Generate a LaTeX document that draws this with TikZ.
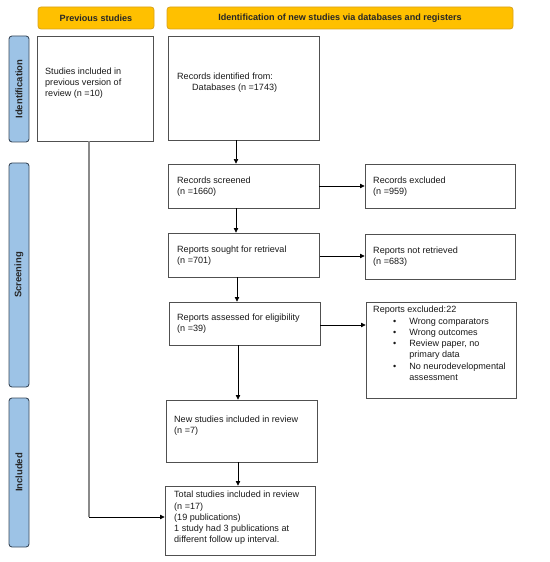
\documentclass[tikz,border=0pt]{standalone}
\usepackage{fontspec}
\setmainfont{Liberation Sans}
\usetikzlibrary{arrows.meta}
\definecolor{hdrfill}{HTML}{FFC000}
\definecolor{hdrdraw}{HTML}{D9A21A}
\definecolor{sidefill}{HTML}{9DC3E6}
\definecolor{sidedraw}{HTML}{3A4A5C}
\definecolor{boxdraw}{HTML}{505050}
\definecolor{lineg}{HTML}{8A8A8A}
\tikzset{
  hdr/.style={draw=hdrdraw, fill=hdrfill, rounded corners=3pt, line width=0.8bp, font=\fontsize{9.1}{10}\selectfont\bfseries, text=black!85},
  side/.style={draw=sidedraw, fill=sidefill, rounded corners=3pt, line width=0.9bp, font=\fontsize{9.5}{10}\selectfont\bfseries, text=black!85},
  bx/.style={draw=boxdraw, line width=0.9bp, inner sep=0pt},
  txt/.style={inner sep=0pt, align=left, font=\fontsize{9.1}{11.3}\selectfont, text=black!90, anchor=west},
  arr/.style={-{Triangle[length=4.5bp,width=4.5bp]}, line width=0.7bp, black},
}
\begin{document}
\begin{tikzpicture}[x=1bp,y=-1bp]
\useasboundingbox (0,0) rectangle (550,562);
% headers
\node[hdr, minimum width=116bp, minimum height=22bp] (h1) at (96,18) {Previous studies};
\node[hdr, minimum width=346bp, minimum height=22bp] (h2) at (340,18) {Identification of new studies via databases and registers};
% side labels
\node[side, minimum width=106bp, minimum height=20bp, rotate=90] (s1) at (19,89) {Identification};
\node[side, minimum width=224bp, minimum height=20bp, rotate=90] (s2) at (19,275) {Screening};
\node[side, minimum width=149bp, minimum height=20bp, rotate=90] (s3) at (19,472.5) {Included};
% boxes
\node[bx, minimum width=116bp, minimum height=105bp] (prev) at (95,88.5) {};
\node[bx, minimum width=151bp, minimum height=104bp] (rid) at (243.5,88) {};
\node[bx, minimum width=151bp, minimum height=44bp] (rs) at (243.5,186) {};
\node[bx, minimum width=150bp, minimum height=44bp] (rex) at (440,186) {};
\node[bx, minimum width=151bp, minimum height=44bp] (rsr) at (244,255) {};
\node[bx, minimum width=150bp, minimum height=45bp] (rnr) at (440,256.5) {};
\node[bx, minimum width=151bp, minimum height=43bp] (rae) at (244.5,323.5) {};
\node[bx, minimum width=150bp, minimum height=96bp] (rexc) at (441,350) {};
\node[bx, minimum width=151bp, minimum height=62bp] (nsi) at (241.5,431) {};
\node[bx, minimum width=150bp, minimum height=69bp] (tot) at (240,520.5) {};
% texts
\node[txt] (tprev) at (45,83) {Studies included in\\previous version of\\review (n =10)};
\node[txt] (trid) at (177,83) {Records identified from:\\\hspace{15bp}Databases (n =1743)};
\node[txt] (trs) at (177,187) {Records screened\\(n =1660)};
\node[txt] (trex) at (373,187) {Records excluded\\(n =959)};
\node[txt] (trsr) at (177,256) {Reports sought for retrieval\\(n =701)};
\node[txt] (trnr) at (373,257) {Reports not retrieved\\(n =683)};
\node[txt] (trae) at (177,324) {Reports assessed for eligibility\\(n =39)};
\node[txt, anchor=north west] (trexc) at (373,306) {Reports excluded:22\\
  \hspace{20bp}\textbullet\hspace{13bp}Wrong comparators\\
  \hspace{20bp}\textbullet\hspace{13bp}Wrong outcomes\\
  \hspace{20bp}\textbullet\hspace{13bp}Review paper, no\\
  \hspace{36.2bp}primary data\\
  \hspace{20bp}\textbullet\hspace{13bp}No neurodevelopmental\\
  \hspace{36.2bp}assessment};
\node[txt] (tnsi) at (174,426) {New studies included in review\\(n =7)};
\node[txt] (ttot) at (174,518) {Total studies included in review\\(n =17)\\(19 publications)\\1 study had 3 publications at\\different follow up interval.};
% connectors
\draw[arr] (rid.south -| 236,0) -- (rs.north -| 236,0);
\draw[arr] (rs.south -| 236,0) -- (rsr.north -| 236,0);
\draw[arr] (rsr.south -| 237,0) -- (rae.north -| 237,0);
\draw[arr] (rae.south -| 238,0) -- (nsi.north -| 238,0);
\draw[arr] (nsi.south -| 238,0) -- (tot.north -| 238,0);
\draw[arr] (rs.east) -- (rex.west);
\draw[arr] (rsr.east |- 0,256) -- (rnr.west |- 0,256);
\draw[arr] (rae.east |- 0,325) -- (rexc.west |- 0,325);
\draw[line width=1.1bp, lineg] (prev.south -| 89,0) -- (89,517);
\draw[arr] (89,517) -- (tot.west |- 0,517);
\end{tikzpicture}
\end{document}
